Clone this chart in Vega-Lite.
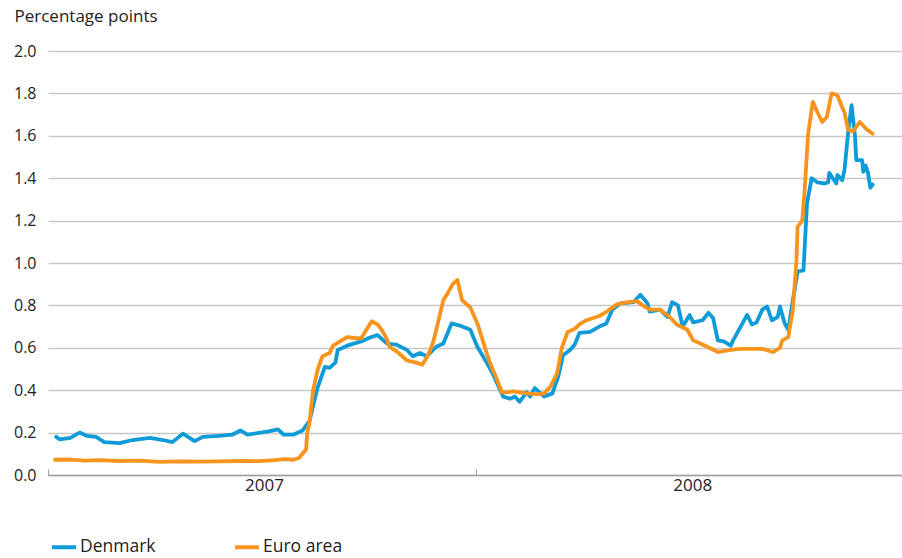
{
  "$schema": "https://vega.github.io/schema/vega-lite/v6.json",
  "width": 854,
  "height": 424,
  "autosize": {"type": "none"},
  "padding": {"left": 48, "top": 51, "right": 0, "bottom": 83},
  "background": "white",
  "config": {
    "view": {"stroke": null},
    "font": "Open Sans",
    "axis": {"labelFont": "Open Sans", "titleFont": "Open Sans"},
    "legend": {"labelFont": "Open Sans"}
  },
  "data": {"values": [
    {"date": "2007-01-08", "series": "Denmark", "value": 0.18},
    {"date": "2007-01-11", "series": "Denmark", "value": 0.168},
    {"date": "2007-01-20", "series": "Denmark", "value": 0.175},
    {"date": "2007-01-28", "series": "Denmark", "value": 0.2},
    {"date": "2007-02-03", "series": "Denmark", "value": 0.185},
    {"date": "2007-02-11", "series": "Denmark", "value": 0.18},
    {"date": "2007-02-18", "series": "Denmark", "value": 0.155},
    {"date": "2007-03-03", "series": "Denmark", "value": 0.15},
    {"date": "2007-03-14", "series": "Denmark", "value": 0.165},
    {"date": "2007-03-29", "series": "Denmark", "value": 0.175},
    {"date": "2007-04-09", "series": "Denmark", "value": 0.165},
    {"date": "2007-04-17", "series": "Denmark", "value": 0.155},
    {"date": "2007-04-26", "series": "Denmark", "value": 0.195},
    {"date": "2007-05-06", "series": "Denmark", "value": 0.16},
    {"date": "2007-05-13", "series": "Denmark", "value": 0.18},
    {"date": "2007-05-27", "series": "Denmark", "value": 0.185},
    {"date": "2007-06-07", "series": "Denmark", "value": 0.19},
    {"date": "2007-06-14", "series": "Denmark", "value": 0.21},
    {"date": "2007-06-20", "series": "Denmark", "value": 0.19},
    {"date": "2007-07-07", "series": "Denmark", "value": 0.205},
    {"date": "2007-07-16", "series": "Denmark", "value": 0.215},
    {"date": "2007-07-21", "series": "Denmark", "value": 0.19},
    {"date": "2007-07-29", "series": "Denmark", "value": 0.19},
    {"date": "2007-08-06", "series": "Denmark", "value": 0.21},
    {"date": "2007-08-12", "series": "Denmark", "value": 0.255},
    {"date": "2007-08-16", "series": "Denmark", "value": 0.35},
    {"date": "2007-08-19", "series": "Denmark", "value": 0.415},
    {"date": "2007-08-25", "series": "Denmark", "value": 0.51},
    {"date": "2007-08-29", "series": "Denmark", "value": 0.505},
    {"date": "2007-09-03", "series": "Denmark", "value": 0.53},
    {"date": "2007-09-05", "series": "Denmark", "value": 0.59},
    {"date": "2007-09-13", "series": "Denmark", "value": 0.61},
    {"date": "2007-09-25", "series": "Denmark", "value": 0.63},
    {"date": "2007-10-03", "series": "Denmark", "value": 0.65},
    {"date": "2007-10-09", "series": "Denmark", "value": 0.66},
    {"date": "2007-10-17", "series": "Denmark", "value": 0.62},
    {"date": "2007-10-25", "series": "Denmark", "value": 0.615},
    {"date": "2007-11-03", "series": "Denmark", "value": 0.59},
    {"date": "2007-11-08", "series": "Denmark", "value": 0.56},
    {"date": "2007-11-14", "series": "Denmark", "value": 0.575},
    {"date": "2007-11-20", "series": "Denmark", "value": 0.56},
    {"date": "2007-11-28", "series": "Denmark", "value": 0.605},
    {"date": "2007-12-04", "series": "Denmark", "value": 0.62},
    {"date": "2007-12-11", "series": "Denmark", "value": 0.715},
    {"date": "2007-12-18", "series": "Denmark", "value": 0.705},
    {"date": "2007-12-27", "series": "Denmark", "value": 0.685},
    {"date": "2008-01-02", "series": "Denmark", "value": 0.605},
    {"date": "2008-01-10", "series": "Denmark", "value": 0.53},
    {"date": "2008-01-15", "series": "Denmark", "value": 0.48},
    {"date": "2008-01-24", "series": "Denmark", "value": 0.37},
    {"date": "2008-01-30", "series": "Denmark", "value": 0.36},
    {"date": "2008-02-03", "series": "Denmark", "value": 0.37},
    {"date": "2008-02-07", "series": "Denmark", "value": 0.345},
    {"date": "2008-02-13", "series": "Denmark", "value": 0.39},
    {"date": "2008-02-16", "series": "Denmark", "value": 0.37},
    {"date": "2008-02-20", "series": "Denmark", "value": 0.41},
    {"date": "2008-02-24", "series": "Denmark", "value": 0.39},
    {"date": "2008-02-28", "series": "Denmark", "value": 0.37},
    {"date": "2008-03-06", "series": "Denmark", "value": 0.385},
    {"date": "2008-03-11", "series": "Denmark", "value": 0.465},
    {"date": "2008-03-15", "series": "Denmark", "value": 0.565},
    {"date": "2008-03-21", "series": "Denmark", "value": 0.59},
    {"date": "2008-03-25", "series": "Denmark", "value": 0.615},
    {"date": "2008-03-29", "series": "Denmark", "value": 0.67},
    {"date": "2008-04-07", "series": "Denmark", "value": 0.675},
    {"date": "2008-04-15", "series": "Denmark", "value": 0.7},
    {"date": "2008-04-21", "series": "Denmark", "value": 0.715},
    {"date": "2008-04-26", "series": "Denmark", "value": 0.78},
    {"date": "2008-05-03", "series": "Denmark", "value": 0.81},
    {"date": "2008-05-14", "series": "Denmark", "value": 0.815},
    {"date": "2008-05-20", "series": "Denmark", "value": 0.85},
    {"date": "2008-05-26", "series": "Denmark", "value": 0.81},
    {"date": "2008-05-28", "series": "Denmark", "value": 0.77},
    {"date": "2008-06-06", "series": "Denmark", "value": 0.78},
    {"date": "2008-06-12", "series": "Denmark", "value": 0.745},
    {"date": "2008-06-16", "series": "Denmark", "value": 0.815},
    {"date": "2008-06-21", "series": "Denmark", "value": 0.8},
    {"date": "2008-06-25", "series": "Denmark", "value": 0.7},
    {"date": "2008-07-01", "series": "Denmark", "value": 0.755},
    {"date": "2008-07-04", "series": "Denmark", "value": 0.72},
    {"date": "2008-07-12", "series": "Denmark", "value": 0.73},
    {"date": "2008-07-17", "series": "Denmark", "value": 0.765},
    {"date": "2008-07-21", "series": "Denmark", "value": 0.74},
    {"date": "2008-07-25", "series": "Denmark", "value": 0.635},
    {"date": "2008-07-30", "series": "Denmark", "value": 0.63},
    {"date": "2008-08-05", "series": "Denmark", "value": 0.61},
    {"date": "2008-08-07", "series": "Denmark", "value": 0.635},
    {"date": "2008-08-13", "series": "Denmark", "value": 0.695},
    {"date": "2008-08-19", "series": "Denmark", "value": 0.755},
    {"date": "2008-08-23", "series": "Denmark", "value": 0.71},
    {"date": "2008-08-27", "series": "Denmark", "value": 0.72},
    {"date": "2008-09-01", "series": "Denmark", "value": 0.78},
    {"date": "2008-09-05", "series": "Denmark", "value": 0.795},
    {"date": "2008-09-09", "series": "Denmark", "value": 0.73},
    {"date": "2008-09-14", "series": "Denmark", "value": 0.745},
    {"date": "2008-09-16", "series": "Denmark", "value": 0.795},
    {"date": "2008-09-20", "series": "Denmark", "value": 0.715},
    {"date": "2008-09-23", "series": "Denmark", "value": 0.685},
    {"date": "2008-09-27", "series": "Denmark", "value": 0.825},
    {"date": "2008-10-01", "series": "Denmark", "value": 0.96},
    {"date": "2008-10-06", "series": "Denmark", "value": 0.965},
    {"date": "2008-10-09", "series": "Denmark", "value": 1.28},
    {"date": "2008-10-13", "series": "Denmark", "value": 1.4},
    {"date": "2008-10-18", "series": "Denmark", "value": 1.38},
    {"date": "2008-10-24", "series": "Denmark", "value": 1.375},
    {"date": "2008-10-27", "series": "Denmark", "value": 1.38},
    {"date": "2008-10-28", "series": "Denmark", "value": 1.425},
    {"date": "2008-10-31", "series": "Denmark", "value": 1.4},
    {"date": "2008-11-03", "series": "Denmark", "value": 1.375},
    {"date": "2008-11-04", "series": "Denmark", "value": 1.415},
    {"date": "2008-11-08", "series": "Denmark", "value": 1.39},
    {"date": "2008-11-10", "series": "Denmark", "value": 1.44},
    {"date": "2008-11-13", "series": "Denmark", "value": 1.61},
    {"date": "2008-11-16", "series": "Denmark", "value": 1.745},
    {"date": "2008-11-19", "series": "Denmark", "value": 1.595},
    {"date": "2008-11-20", "series": "Denmark", "value": 1.485},
    {"date": "2008-11-25", "series": "Denmark", "value": 1.485},
    {"date": "2008-11-26", "series": "Denmark", "value": 1.43},
    {"date": "2008-11-28", "series": "Denmark", "value": 1.46},
    {"date": "2008-11-30", "series": "Denmark", "value": 1.425},
    {"date": "2008-12-02", "series": "Denmark", "value": 1.355},
    {"date": "2008-12-04", "series": "Denmark", "value": 1.37},

    {"date": "2007-01-07", "series": "Euro area", "value": 0.072},
    {"date": "2007-01-20", "series": "Euro area", "value": 0.073},
    {"date": "2007-02-01", "series": "Euro area", "value": 0.068},
    {"date": "2007-02-14", "series": "Euro area", "value": 0.07},
    {"date": "2007-03-03", "series": "Euro area", "value": 0.066},
    {"date": "2007-03-20", "series": "Euro area", "value": 0.068},
    {"date": "2007-04-06", "series": "Euro area", "value": 0.062},
    {"date": "2007-04-23", "series": "Euro area", "value": 0.064},
    {"date": "2007-05-10", "series": "Euro area", "value": 0.063},
    {"date": "2007-05-27", "series": "Euro area", "value": 0.064},
    {"date": "2007-06-14", "series": "Euro area", "value": 0.066},
    {"date": "2007-06-30", "series": "Euro area", "value": 0.065},
    {"date": "2007-07-13", "series": "Euro area", "value": 0.07},
    {"date": "2007-07-22", "series": "Euro area", "value": 0.075},
    {"date": "2007-07-29", "series": "Euro area", "value": 0.072},
    {"date": "2007-08-03", "series": "Euro area", "value": 0.08},
    {"date": "2007-08-06", "series": "Euro area", "value": 0.1},
    {"date": "2007-08-09", "series": "Euro area", "value": 0.12},
    {"date": "2007-08-10", "series": "Euro area", "value": 0.2},
    {"date": "2007-08-12", "series": "Euro area", "value": 0.25},
    {"date": "2007-08-15", "series": "Euro area", "value": 0.4},
    {"date": "2007-08-19", "series": "Euro area", "value": 0.5},
    {"date": "2007-08-23", "series": "Euro area", "value": 0.56},
    {"date": "2007-08-29", "series": "Euro area", "value": 0.575},
    {"date": "2007-09-01", "series": "Euro area", "value": 0.61},
    {"date": "2007-09-07", "series": "Euro area", "value": 0.63},
    {"date": "2007-09-13", "series": "Euro area", "value": 0.65},
    {"date": "2007-09-21", "series": "Euro area", "value": 0.645},
    {"date": "2007-09-25", "series": "Euro area", "value": 0.645},
    {"date": "2007-09-30", "series": "Euro area", "value": 0.69},
    {"date": "2007-10-04", "series": "Euro area", "value": 0.725},
    {"date": "2007-10-09", "series": "Euro area", "value": 0.71},
    {"date": "2007-10-13", "series": "Euro area", "value": 0.68},
    {"date": "2007-10-17", "series": "Euro area", "value": 0.64},
    {"date": "2007-10-19", "series": "Euro area", "value": 0.605},
    {"date": "2007-10-26", "series": "Euro area", "value": 0.58},
    {"date": "2007-11-03", "series": "Euro area", "value": 0.54},
    {"date": "2007-11-11", "series": "Euro area", "value": 0.53},
    {"date": "2007-11-16", "series": "Euro area", "value": 0.52},
    {"date": "2007-11-21", "series": "Euro area", "value": 0.565},
    {"date": "2007-11-25", "series": "Euro area", "value": 0.62},
    {"date": "2007-11-28", "series": "Euro area", "value": 0.685},
    {"date": "2007-12-04", "series": "Euro area", "value": 0.825},
    {"date": "2007-12-08", "series": "Euro area", "value": 0.86},
    {"date": "2007-12-12", "series": "Euro area", "value": 0.9},
    {"date": "2007-12-16", "series": "Euro area", "value": 0.92},
    {"date": "2007-12-20", "series": "Euro area", "value": 0.825},
    {"date": "2007-12-27", "series": "Euro area", "value": 0.79},
    {"date": "2008-01-02", "series": "Euro area", "value": 0.715},
    {"date": "2008-01-12", "series": "Euro area", "value": 0.54},
    {"date": "2008-01-18", "series": "Euro area", "value": 0.46},
    {"date": "2008-01-23", "series": "Euro area", "value": 0.39},
    {"date": "2008-01-28", "series": "Euro area", "value": 0.39},
    {"date": "2008-02-01", "series": "Euro area", "value": 0.395},
    {"date": "2008-02-07", "series": "Euro area", "value": 0.39},
    {"date": "2008-02-13", "series": "Euro area", "value": 0.385},
    {"date": "2008-02-22", "series": "Euro area", "value": 0.38},
    {"date": "2008-02-28", "series": "Euro area", "value": 0.385},
    {"date": "2008-03-04", "series": "Euro area", "value": 0.415},
    {"date": "2008-03-10", "series": "Euro area", "value": 0.48},
    {"date": "2008-03-14", "series": "Euro area", "value": 0.6},
    {"date": "2008-03-19", "series": "Euro area", "value": 0.675},
    {"date": "2008-03-25", "series": "Euro area", "value": 0.69},
    {"date": "2008-03-29", "series": "Euro area", "value": 0.71},
    {"date": "2008-04-04", "series": "Euro area", "value": 0.73},
    {"date": "2008-04-15", "series": "Euro area", "value": 0.75},
    {"date": "2008-04-21", "series": "Euro area", "value": 0.77},
    {"date": "2008-04-30", "series": "Euro area", "value": 0.805},
    {"date": "2008-05-09", "series": "Euro area", "value": 0.815},
    {"date": "2008-05-17", "series": "Euro area", "value": 0.82},
    {"date": "2008-05-22", "series": "Euro area", "value": 0.8},
    {"date": "2008-05-28", "series": "Euro area", "value": 0.78},
    {"date": "2008-06-06", "series": "Euro area", "value": 0.78},
    {"date": "2008-06-14", "series": "Euro area", "value": 0.745},
    {"date": "2008-06-20", "series": "Euro area", "value": 0.71},
    {"date": "2008-06-29", "series": "Euro area", "value": 0.685},
    {"date": "2008-07-04", "series": "Euro area", "value": 0.635},
    {"date": "2008-07-10", "series": "Euro area", "value": 0.62},
    {"date": "2008-07-16", "series": "Euro area", "value": 0.605},
    {"date": "2008-07-25", "series": "Euro area", "value": 0.58},
    {"date": "2008-08-05", "series": "Euro area", "value": 0.59},
    {"date": "2008-08-13", "series": "Euro area", "value": 0.595},
    {"date": "2008-09-01", "series": "Euro area", "value": 0.595},
    {"date": "2008-09-10", "series": "Euro area", "value": 0.58},
    {"date": "2008-09-16", "series": "Euro area", "value": 0.6},
    {"date": "2008-09-18", "series": "Euro area", "value": 0.635},
    {"date": "2008-09-23", "series": "Euro area", "value": 0.65},
    {"date": "2008-09-27", "series": "Euro area", "value": 0.78},
    {"date": "2008-09-30", "series": "Euro area", "value": 1.01},
    {"date": "2008-10-01", "series": "Euro area", "value": 1.17},
    {"date": "2008-10-05", "series": "Euro area", "value": 1.2},
    {"date": "2008-10-07", "series": "Euro area", "value": 1.345},
    {"date": "2008-10-10", "series": "Euro area", "value": 1.61},
    {"date": "2008-10-14", "series": "Euro area", "value": 1.76},
    {"date": "2008-10-18", "series": "Euro area", "value": 1.71},
    {"date": "2008-10-22", "series": "Euro area", "value": 1.665},
    {"date": "2008-10-26", "series": "Euro area", "value": 1.69},
    {"date": "2008-10-30", "series": "Euro area", "value": 1.8},
    {"date": "2008-11-04", "series": "Euro area", "value": 1.79},
    {"date": "2008-11-08", "series": "Euro area", "value": 1.735},
    {"date": "2008-11-10", "series": "Euro area", "value": 1.71},
    {"date": "2008-11-13", "series": "Euro area", "value": 1.63},
    {"date": "2008-11-17", "series": "Euro area", "value": 1.62},
    {"date": "2008-11-23", "series": "Euro area", "value": 1.665},
    {"date": "2008-11-29", "series": "Euro area", "value": 1.63},
    {"date": "2008-12-04", "series": "Euro area", "value": 1.61}
  ]},
  "mark": {"type": "line", "strokeWidth": 3.8, "strokeJoin": "round", "strokeCap": "round"},
  "encoding": {
    "x": {
      "field": "date",
      "type": "temporal",
      "scale": {"domain": ["2007-01-01", "2008-12-29"]},
      "axis": {
        "title": null,
        "values": ["2007-01-01", "2008-01-01"],
        "labelExpr": "timeFormat(datum.value, '%Y')",
        "labelOffset": 216,
        "labelFlush": false,
        "labelOverlap": false,
        "labelBound": false,
        "labelFontSize": 17,
        "labelColor": "#222222",
        "labelPadding": 8,
        "tickSize": -6,
        "tickColor": "#a0a0a0",
        "tickWidth": 1,
        "domainColor": "#a0a0a0",
        "domainWidth": 1.5,
        "grid": false
      }
    },
    "y": {
      "field": "value",
      "type": "quantitative",
      "scale": {"domain": [0, 2.0], "nice": false, "zero": true},
      "axis": {
        "title": "Percentage points",
        "titleAngle": 0,
        "titleX": -34,
        "titleY": -30,
        "titleAlign": "left",
        "titleBaseline": "alphabetic",
        "titleFontSize": 17,
        "titleFontWeight": "normal",
        "titleColor": "#222222",
        "values": [0, 0.2, 0.4, 0.6, 0.8, 1.0, 1.2, 1.4, 1.6, 1.8, 2.0],
        "format": ".1f",
        "labelFontSize": 16,
        "labelColor": "#222222",
        "labelPadding": 12,
        "ticks": false,
        "domain": false,
        "grid": true,
        "gridColor": "#c8c8c8",
        "gridWidth": 1.5
      }
    },
    "color": {
      "field": "series",
      "type": "nominal",
      "scale": {"domain": ["Denmark", "Euro area"], "range": ["#0f9bd7", "#f7941d"]},
      "legend": {
        "title": null,
        "orient": "none",
        "direction": "horizontal",
        "legendX": 2,
        "legendY": 482,
        "symbolType": "stroke",
        "symbolSize": 576,
        "symbolStrokeWidth": 4,
        "labelFontSize": 17.5,
        "labelColor": "#222222",
        "labelOffset": 2,
        "columnPadding": 71,
        "padding": 0
      }
    }
  }
}
